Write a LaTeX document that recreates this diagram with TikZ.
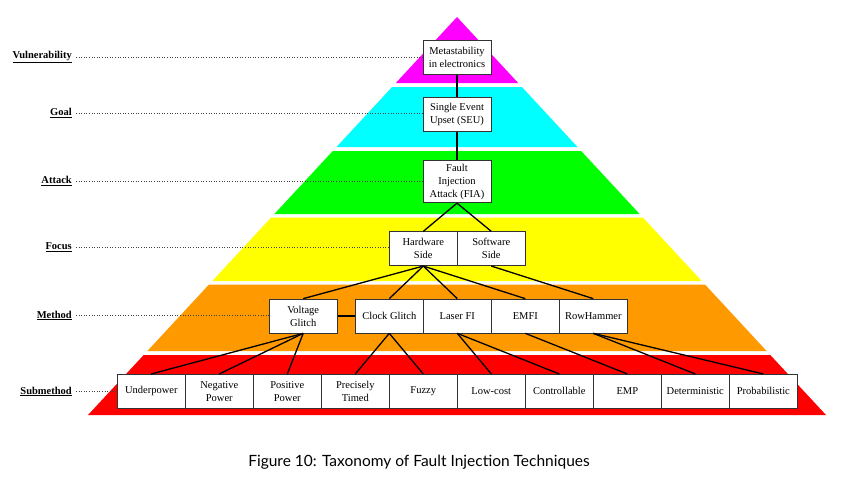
\documentclass[tikz,border=0pt]{standalone}
\usepackage{fontspec}
\setmainfont{Liberation Serif}
\newfontfamily\capfont{Lato}
\definecolor{laymag}{RGB}{255,0,255}
\definecolor{laycyan}{RGB}{0,255,255}
\definecolor{laygreen}{RGB}{0,255,0}
\definecolor{layyellow}{RGB}{255,255,0}
\definecolor{layorange}{RGB}{255,153,0}
\definecolor{layred}{RGB}{255,0,0}
\begin{document}
\begin{tikzpicture}[x=1pt,y=-1pt,
  box/.style={draw=black!80,fill=white,line width=0.7pt,minimum width=68pt,
    minimum height=34pt,inner sep=1pt,align=center,font=\fontsize{10.5}{13}\selectfont},
  level/.style={anchor=east,inner sep=1pt,font=\fontsize{10.5}{12}\selectfont\bfseries},
  guide/.style={dotted,line width=0.6pt,black!75},
  link/.style={line width=1.3pt}]
  \useasboundingbox (0,0) rectangle (863,482);
  % pyramid layers
  \fill[laymag] (457,17) -- (518.2,83) -- (395.8,83) -- cycle;
  \fill[laycyan] (392.1,87) -- (521.9,87) -- (577.5,147) -- (336.5,147) -- cycle;
  \fill[laygreen] (332.8,151) -- (581.2,151) -- (639.6,214) -- (274.4,214) -- cycle;
  \fill[layyellow] (271.1,217.5) -- (642.9,217.5) -- (701.7,281) -- (212.3,281) -- cycle;
  \fill[layorange] (209,284.5) -- (705,284.5) -- (766.6,351) -- (147.4,351) -- cycle;
  \fill[layred] (143.7,355) -- (770.3,355) -- (826,415) -- (88,415) -- cycle;
  % level names
  \node[level] (lvuln) at (73,57) {\underline{Vulnerability}};
  \node[level] (lgoal) at (73,113) {\underline{Goal}};
  \node[level] (latt) at (73,181) {\underline{Attack}};
  \node[level] (lfoc) at (73,247.5) {\underline{Focus}};
  \node[level] (lmeth) at (73,315.5) {\underline{Method}};
  \node[level] (lsub) at (73,391.5) {\underline{Submethod}};
  % boxes
  \node[box] (meta) at (457,57.7) {Metastability\\in electronics};
  \node[box] (seu) at (457,114.3) {Single Event\\Upset (SEU)};
  \node[box,minimum height=42pt] (fia) at (457,181.8) {Fault\\Injection\\Attack (FIA)};
  \node[box] (hw) at (423.3,248.7) {Hardware\\Side};
  \node[box] (sw) at (491.3,248.7) {Software\\Side};
  \node[box] (volt) at (303.2,316) {Voltage\\Glitch};
  \node[box] (clock) at (389.3,316) {Clock Glitch};
  \node[box] (laser) at (457.3,316) {Laser FI};
  \node[box] (emfi) at (525.3,316) {EMFI};
  \node[box] (rowh) at (593.3,316) {RowHammer};
  \node[box] (under) at (151.3,391.3) {Underpower};
  \node[box] (negp) at (219.3,391.3) {Negative\\Power};
  \node[box] (posp) at (287.3,391.3) {Positive\\Power};
  \node[box] (prec) at (355.3,391.3) {Precisely\\Timed};
  \node[box] (fuzzy) at (423.3,391.3) {Fuzzy};
  \node[box] (lowc) at (491.3,391.3) {Low-cost};
  \node[box] (ctrl) at (559.3,391.3) {Controllable};
  \node[box] (emp) at (627.3,391.3) {EMP};
  \node[box] (det) at (695.3,391.3) {Deterministic};
  \node[box] (prob) at (763.3,391.3) {Probabilistic};
  % dotted guides
  \draw[guide] ([xshift=3pt]lvuln.east) -- (lvuln.east -| meta.west);
  \draw[guide] ([xshift=3pt]lgoal.east) -- (lgoal.east -| seu.west);
  \draw[guide] ([xshift=3pt]latt.east) -- (latt.east -| fia.west);
  \draw[guide] ([xshift=3pt]lfoc.east) -- (lfoc.east -| hw.west);
  \draw[guide] ([xshift=3pt]lmeth.east) -- (lmeth.east -| volt.west);
  \draw[guide] ([xshift=3pt]lsub.east) -- (lsub.east -| under.west);
  % tree links
  \draw[link] (meta.south) -- (seu.north);
  \draw[link] (seu.south) -- (fia.north);
  \draw[link] (fia.south) -- (hw.north);
  \draw[link] (fia.south) -- (sw.north);
  \draw[link] (hw.south) -- (volt.north);
  \draw[link] (hw.south) -- (clock.north);
  \draw[link] (hw.south) -- (laser.north);
  \draw[link] (hw.south) -- (emfi.north);
  \draw[link] (sw.south) -- (rowh.north);
  \draw[link] (volt.east) -- (clock.west);
  \draw[link] (volt.south) -- (under.north);
  \draw[link] (volt.south) -- (negp.north);
  \draw[link] (volt.south) -- (posp.north);
  \draw[link] (clock.south) -- (prec.north);
  \draw[link] (clock.south) -- (fuzzy.north);
  \draw[link] (laser.south) -- (lowc.north);
  \draw[link] (laser.south) -- (ctrl.north);
  \draw[link] (emfi.south) -- (emp.north);
  \draw[link] (rowh.south) -- (det.north);
  \draw[link] (rowh.south) -- (prob.north);
  % caption
  \node[font=\capfont\fontsize{15.5}{18}\selectfont] (caption) at (419,462)
    {Figure 10: Taxonomy of Fault Injection Techniques};
\end{tikzpicture}
\end{document}
